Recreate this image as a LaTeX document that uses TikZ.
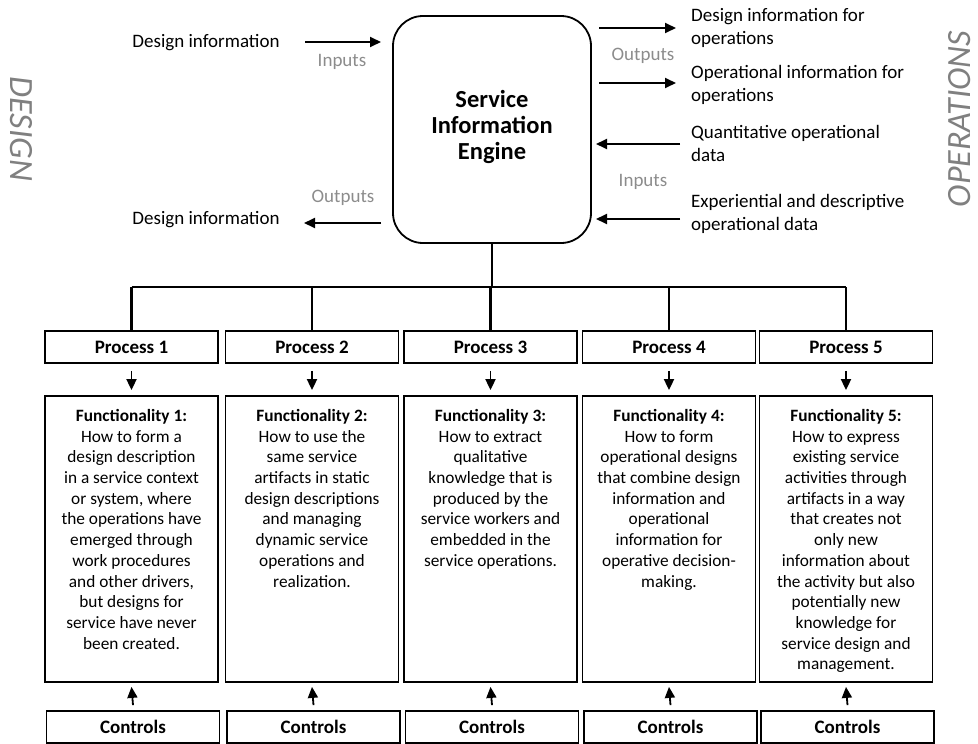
\documentclass[tikz,border=0pt]{standalone}
\usepackage{fontspec}
\setmainfont{Carlito}
\usetikzlibrary{arrows.meta}
\definecolor{labelgray}{RGB}{140,140,140}
\definecolor{sidegray}{RGB}{128,128,128}

\begin{document}
\begin{tikzpicture}[x=1pt,y=-1pt,
  boxline/.style={draw, line width=1.8pt, inner sep=0pt},
  procbox/.style={boxline, minimum width=173pt, minimum height=32pt,
    font=\fontsize{19}{23}\selectfont\bfseries},
  funcbox/.style={boxline, minimum width=173pt, minimum height=286pt},
  functext/.style={anchor=north, align=center, inner sep=0pt,
    font=\fontsize{17.3}{20.7}\selectfont},
  bodytext/.style={inner sep=0pt, font=\fontsize{19}{23}\selectfont},
  rtext/.style={bodytext, anchor=west, align=left},
  iolabel/.style={inner sep=0pt, text=labelgray, font=\fontsize{19}{23}\selectfont},
  sidelabel/.style={inner sep=0pt, text=sidegray, text height=22pt, text depth=0pt,
    font=\fontsize{34}{40}\selectfont\itshape},
  arr/.style={line width=1.8pt, -{Triangle[length=11pt,width=10pt]}},
  tree/.style={line width=2.5pt}
]
\useasboundingbox (0,0) rectangle (978,744);

% central engine
\node[boxline, rounded corners=30pt, minimum width=198pt, minimum height=227pt] (eng) at (492,129.5) {};
\node[align=center, inner sep=0pt, font=\fontsize{24.5}{26}\selectfont\bfseries] (engtxt) at (492,127) {Service\\Information\\Engine};

% side captions
\node[sidelabel, rotate=-90] (design) at (21.5,129) {DESIGN};
\node[sidelabel, rotate=90] (ops) at (959,119) {OPERATIONS};

% design side
\node[bodytext] (din) at (206,43) {Design information};
\node[bodytext] (dout) at (206,220) {Design information};
\node[iolabel] (inl) at (342,62) {Inputs};
\node[iolabel] (outl) at (343,198) {Outputs};
\coordinate (dinA) at (305,42);
\coordinate (dinB) at (381,42);
\coordinate (doutA) at (381,223);
\coordinate (doutB) at (304,223);
\draw[arr] (dinA) -- (dinB);
\draw[arr] (doutA) -- (doutB);

% operations side
\node[rtext] (r1) at (691,27.5) {Design information for\\operations};
\node[rtext] (r2) at (691,85) {Operational information for\\operations};
\node[rtext] (r3) at (691,143.5) {Quantitative operational\\data};
\node[rtext] (r4) at (691,213.5) {Experiential and descriptive\\operational data};
\node[iolabel] (outr) at (643,56) {Outputs};
\node[iolabel] (inr) at (643,182) {Inputs};
\coordinate (a1s) at (599,28);  \coordinate (a1e) at (676,28);
\coordinate (a2s) at (599,83);  \coordinate (a2e) at (676,83);
\coordinate (a3s) at (680,144); \coordinate (a3e) at (596,144);
\coordinate (a4s) at (680,219); \coordinate (a4e) at (596,219);
\draw[arr] (a1s) -- (a1e);
\draw[arr] (a2s) -- (a2e);
\draw[arr] (a3s) -- (a3e);
\draw[arr] (a4s) -- (a4e);

% process columns
\foreach \i/\cx in {1/131.5, 2/312, 3/490.5, 4/669, 5/846} {
  \node[procbox] (p\i) at (\cx,347) {Process \i};
  \node[funcbox] (f\i) at (\cx,539) {};
  \node[procbox] (c\i) at (\cx+1.5,727) {Controls};
  \draw[arr] ([yshift=-7pt]p\i.south) -- ([yshift=5pt]f\i.north);
  \draw[arr] ([yshift=5pt]c\i.north) -- ([yshift=-4pt]f\i.south);
}

% tree from the engine to the processes
\coordinate (bus) at (492,287);
\draw[tree] (eng.south) -- (bus);
\draw[tree] (p1.north |- bus) -- (p5.north |- bus);
\foreach \i in {1,...,5} {
  \draw[tree] (p\i.north |- bus) -- (p\i.north);
}

% functionality texts
\node[functext] (t1) at ([yshift=-14pt]f1.north) {\textbf{Functionality 1:}\\How to form a\\design description\\in a service context\\or system, where\\the operations have\\emerged through\\work procedures\\and other drivers,\\but designs for\\service have never\\been created.};
\node[functext] (t2) at ([yshift=-14pt]f2.north) {\textbf{Functionality 2:}\\How to use the\\same service\\artifacts in static\\design descriptions\\and managing\\dynamic service\\operations and\\realization.};
\node[functext] (t3) at ([yshift=-14pt]f3.north) {\textbf{Functionality 3:}\\How to extract\\qualitative\\knowledge that is\\produced by the\\service workers and\\embedded in the\\service operations.};
\node[functext] (t4) at ([yshift=-14pt]f4.north) {\textbf{Functionality 4:}\\How to form\\operational designs\\that combine design\\information and\\operational\\information for\\operative decision-\\making.};
\node[functext] (t5) at ([yshift=-14pt]f5.north) {\textbf{Functionality 5:}\\How to express\\existing service\\activities through\\artifacts in a way\\that creates not\\only new\\information about\\the activity but also\\potentially new\\knowledge for\\service design and\\management.};
\end{tikzpicture}
\end{document}
